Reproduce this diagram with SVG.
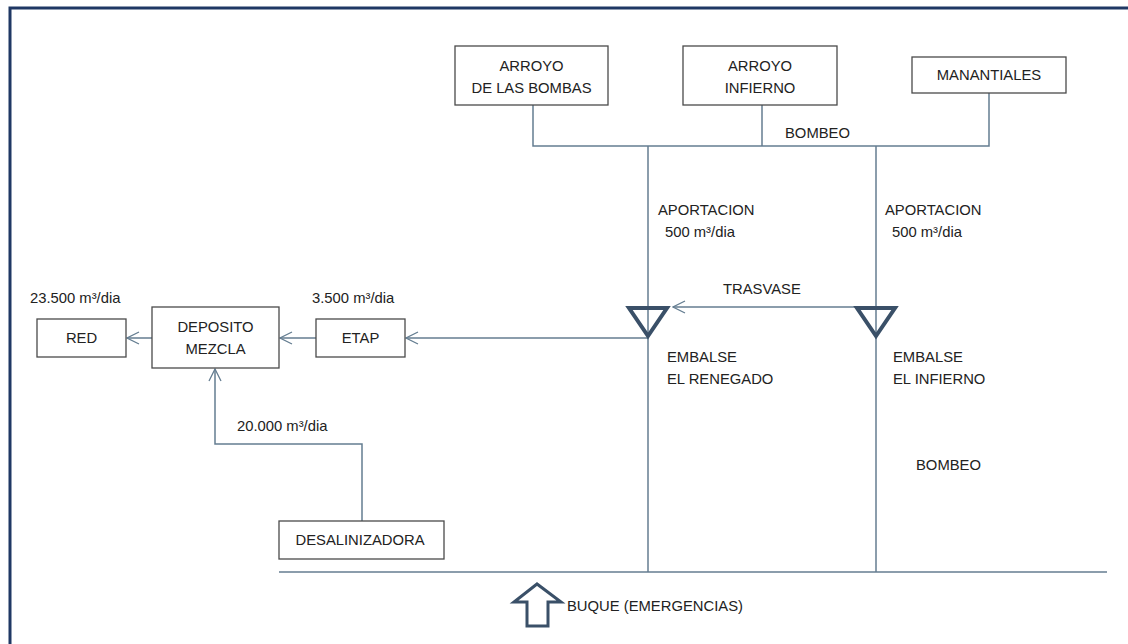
<svg xmlns="http://www.w3.org/2000/svg" width="1128" height="644" viewBox="0 0 1128 644">
<style>
  .box{fill:#fff;stroke:#4a4a4a;stroke-width:1.3}
  .t{font-family:"Liberation Sans",Arial,sans-serif;font-size:14.8px;fill:#222}
  .c{text-anchor:middle}
  .ln{fill:none;stroke:#647d91;stroke-width:1.5}
  .res{fill:none;stroke:#3a5068;stroke-width:4;stroke-linejoin:miter}
</style>
<defs>
  <marker id="arr" viewBox="0 0 14 14" refX="13" refY="7" markerWidth="14" markerHeight="14" markerUnits="userSpaceOnUse" orient="auto">
    <path d="M1,1 L13,7 L1,13" fill="none" stroke="#647d91" stroke-width="1.3"/>
  </marker>
</defs>
<rect width="1128" height="644" fill="#fff"/>
<path d="M10,660 V8 H1140" fill="none" stroke="#1f3864" stroke-width="3"/>

<g id="connectors">
  <path class="ln" d="M533,105 V146 H989 V93"/>
  <path class="ln" d="M762,105 V146"/>
  <path class="ln" d="M648,146 V572"/>
  <path class="ln" d="M876,146 V572"/>
  <path class="ln" d="M279,572 H1107"/>
  <path class="ln" d="M876,307 H673" marker-end="url(#arr)"/>
  <path class="ln" d="M648,338 H406" marker-end="url(#arr)"/>
  <path class="ln" d="M316,338 H280" marker-end="url(#arr)"/>
  <path class="ln" d="M152,338 H127" marker-end="url(#arr)"/>
  <path class="ln" d="M362,521 V444 H215 V369" marker-end="url(#arr)"/>
</g>

<g id="arroyo-bombas">
  <rect class="box" x="455" y="46" width="153" height="59"/>
  <text class="t c" x="531.5" y="71">ARROYO</text>
  <text class="t c" x="531.5" y="93">DE LAS BOMBAS</text>
</g>
<g id="arroyo-infierno">
  <rect class="box" x="683" y="46" width="154" height="59"/>
  <text class="t c" x="760" y="71">ARROYO</text>
  <text class="t c" x="760" y="93">INFIERNO</text>
</g>
<g id="manantiales">
  <rect class="box" x="912" y="57" width="154" height="36"/>
  <text class="t c" x="989" y="80">MANANTIALES</text>
</g>
<g id="bombeo-top"><text class="t" x="785" y="138">BOMBEO</text></g>
<g id="aport-1">
  <text class="t" x="658" y="215">APORTACION</text>
  <text class="t" x="665" y="237">500 m³/dia</text>
</g>
<g id="aport-2">
  <text class="t" x="885" y="215">APORTACION</text>
  <text class="t" x="892" y="237">500 m³/dia</text>
</g>
<g id="trasvase"><text class="t" x="723" y="294">TRASVASE</text></g>

<g id="embalse-renegado">
  <path class="res" d="M629,308 H667 L648,336 Z"/>
  <text class="t" x="667" y="362">EMBALSE</text>
  <text class="t" x="667" y="384">EL RENEGADO</text>
</g>
<g id="embalse-infierno">
  <path class="res" d="M857,308 H895 L876,336 Z"/>
  <text class="t" x="893" y="362">EMBALSE</text>
  <text class="t" x="893" y="384">EL INFIERNO</text>
</g>
<g id="bombeo-bottom"><text class="t" x="916" y="470">BOMBEO</text></g>

<g id="etap">
  <rect class="box" x="316" y="319" width="89" height="38"/>
  <text class="t c" x="360.5" y="343">ETAP</text>
  <text class="t" x="312" y="303">3.500 m³/dia</text>
</g>
<g id="deposito">
  <rect class="box" x="152" y="307" width="127" height="61"/>
  <text class="t c" x="215.5" y="332">DEPOSITO</text>
  <text class="t c" x="215.5" y="354">MEZCLA</text>
</g>
<g id="red">
  <rect class="box" x="37" y="319" width="89" height="38"/>
  <text class="t c" x="81.5" y="343">RED</text>
  <text class="t" x="30" y="303">23.500 m³/dia</text>
</g>
<g id="desalinizadora">
  <rect class="box" x="279" y="521" width="165" height="38"/>
  <text class="t c" x="360" y="545">DESALINIZADORA</text>
  <text class="t" x="237" y="431">20.000 m³/dia</text>
</g>
<g id="buque">
  <path d="M537,584 L514,602 H527 V626 H548 V602 H561 Z" fill="#fff" stroke="#3a5068" stroke-width="3" stroke-linejoin="miter"/>
  <text class="t" x="567" y="611">BUQUE (EMERGENCIAS)</text>
</g>
</svg>
